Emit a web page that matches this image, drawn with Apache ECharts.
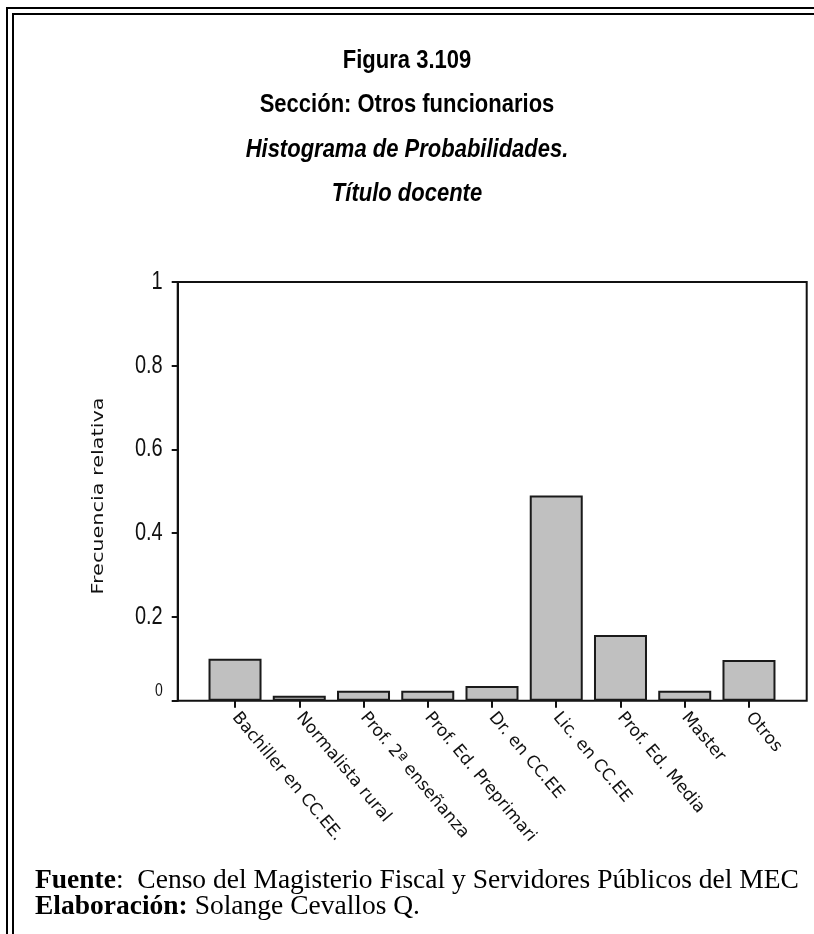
<!DOCTYPE html>
<html>
<head>
<meta charset="utf-8">
<script src="https://cdn.jsdelivr.net/npm/echarts@6/dist/echarts.min.js"></script>
<style>
  html, body { margin: 0; padding: 0; background: #fff; }
  #chart { width: 814px; height: 934px; }
</style>
</head>
<body>
<div id="chart"></div>
<script>
// data
const categories = [
  'Bachiller en CC.EE.', 'Normalista rural', 'Prof. 2ª enseñanza',
  'Prof. Ed. Preprimari', 'Dr. en CC.EE', 'Lic. en CC.EE',
  'Prof. Ed. Media', 'Master', 'Otros'
]
const frecuencia = [0.10, 0.012, 0.024, 0.024, 0.035, 0.49, 0.157, 0.024, 0.097]
const yTicks = [0, 0.2, 0.4, 0.6, 0.8, 1]
const yTickLabels = ['0', '0.2', '0.4', '0.6', '0.8', '1']

const titleLines = [
  'Figura 3.109',
  'Sección: Otros funcionarios',
  'Histograma de Probabilidades.',
  'Título docente'
]

const chart = echarts.init(document.getElementById('chart'))

const serif = '"Liberation Serif", "Times New Roman", serif'
const sans = '"Liberation Sans", Arial, sans-serif'

chart.setOption({
  backgroundColor: '#fff',
  animation: false,
  grid: [
    // plot frame
    { left: 177.7, right: 7.3, top: 282, bottom: 233.3, show: true, borderColor: '#111', borderWidth: 2, backgroundColor: 'transparent' },
    // bars
    { left: 202.9, right: 32.9, top: 282, bottom: 233.3 }
  ],
  xAxis: [
    { gridIndex: 0, type: 'value', min: 0, max: 1, show: false },
    {
      gridIndex: 1,
      type: 'category',
      data: categories,
      axisLine: { show: false },
      axisTick: { show: true, alignWithLabel: true, length: 7, lineStyle: { color: '#111', width: 2 } },
      axisLabel: {
        rotate: -50,
        interval: 0,
        margin: 14,
        fontFamily: '"DejaVu Sans", sans-serif',
        fontSize: 17,
        color: '#111'
      }
    }
  ],
  yAxis: [
    {
      gridIndex: 0,
      type: 'value',
      min: 0,
      max: 1,
      interval: 0.2,
      axisLine: { show: true, lineStyle: { color: '#111', width: 2 } },
      axisTick: { show: true, length: 6, lineStyle: { color: '#111', width: 2 } },
      splitLine: { show: false },
      axisLabel: { show: false }
    },
    { gridIndex: 1, type: 'value', min: 0, max: 1, show: false }
  ],
  series: [{
    type: 'bar',
    xAxisIndex: 1,
    yAxisIndex: 1,
    data: frecuencia,
    barWidth: 53,
    itemStyle: { color: '#c0c0c0', borderColor: '#1a1a1a', borderWidth: 2 }
  }]
})

// titles, stretched a bit vertically like the original
const titleGraphics = titleLines.map((t, i) => ({
  type: 'text',
  x: 407,
  y: 61 + i * 44.3,
  scaleY: 1.15,
  style: {
    text: t,
    align: 'center',
    verticalAlign: 'middle',
    font: (i >= 2 ? 'italic ' : '') + 'bold 22px ' + sans,
    fill: '#000'
  }
}))

// y tick labels placed through the axis scale, tall narrow digits
const axisX = chart.convertToPixel({ xAxisIndex: 0 }, 0)
const yLabelGraphics = yTicks.map((v, i) => {
  const py = chart.convertToPixel({ yAxisIndex: 0 }, v)
  const isZero = v === 0
  return {
    type: 'text',
    x: axisX - 15,
    y: isZero ? py - 10 : py,
    scaleY: isZero ? 1.3 : 1.25,
    style: {
      text: yTickLabels[i],
      align: 'right',
      verticalAlign: 'middle',
      font: (isZero ? '14px ' : '20px ') + sans,
      fill: '#111'
    }
  }
})

chart.setOption({
  graphic: [
    // double frame, left and top
    { type: 'line', shape: { x1: 7, y1: 8, x2: 7, y2: 934 }, style: { stroke: '#000', lineWidth: 2 } },
    { type: 'line', shape: { x1: 13, y1: 14, x2: 13, y2: 934 }, style: { stroke: '#000', lineWidth: 2 } },
    { type: 'line', shape: { x1: 6, y1: 8, x2: 814, y2: 8 }, style: { stroke: '#000', lineWidth: 2 } },
    { type: 'line', shape: { x1: 12, y1: 14, x2: 814, y2: 14 }, style: { stroke: '#000', lineWidth: 2 } },
    ...titleGraphics,
    ...yLabelGraphics,
    // y axis title, stretched along its length like the original
    {
      type: 'text',
      x: 99,
      y: 496,
      rotation: Math.PI / 2,
      scaleX: 1.3,
      style: {
        text: 'Frecuencia relativa',
        align: 'center',
        verticalAlign: 'middle',
        font: '16px "DejaVu Sans", sans-serif',
        fill: '#111'
      }
    },
    {
      type: 'text', x: 35, y: 881,
      style: {
        text: '{b|Fuente}:  Censo del Magisterio Fiscal y Servidores Públicos del MEC',
        verticalAlign: 'middle',
        rich: { b: { fontFamily: serif, fontWeight: 'bold', fontSize: 27.5, fill: '#000' } },
        font: '27.5px ' + serif,
        fill: '#000'
      }
    },
    {
      type: 'text', x: 35, y: 907,
      style: {
        text: '{b|Elaboración:} Solange Cevallos Q.',
        verticalAlign: 'middle',
        rich: { b: { fontFamily: serif, fontWeight: 'bold', fontSize: 27.5, fill: '#000' } },
        font: '27.5px ' + serif,
        fill: '#000'
      }
    }
  ]
})
</script>
</body>
</html>
